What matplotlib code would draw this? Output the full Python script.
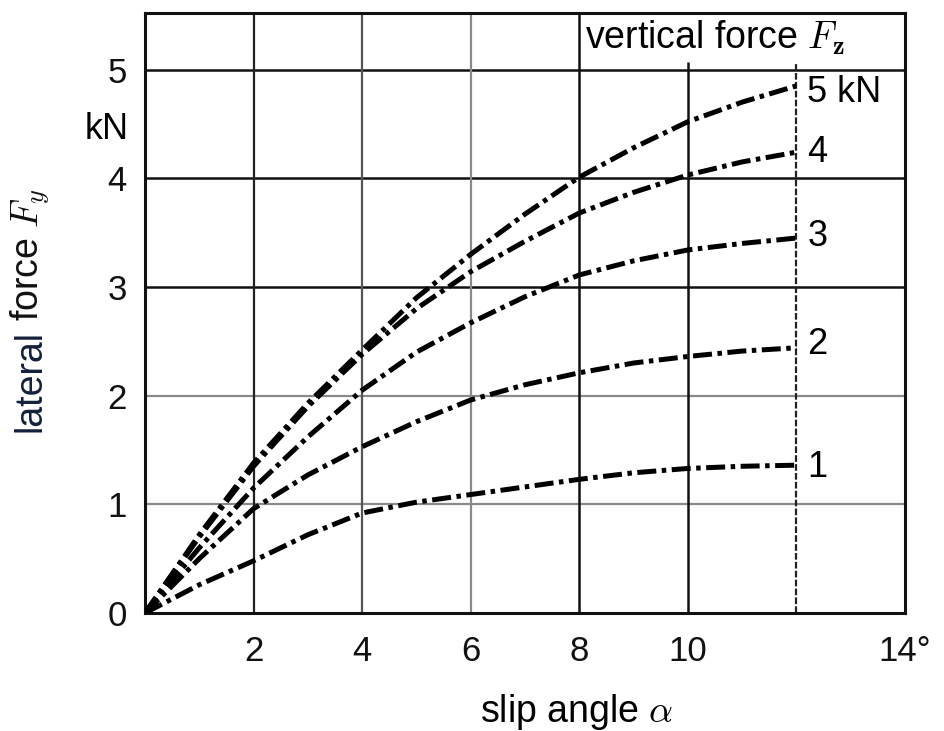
import matplotlib
matplotlib.use("Agg")
import matplotlib.pyplot as plt

plt.rcParams['font.family'] = ['Liberation Sans', 'DejaVu Sans']
plt.rcParams['mathtext.fontset'] = 'cm'

# slip angle (deg) and lateral force (kN)
slip = [0, 1, 2, 3, 4, 5, 6, 7, 8, 9, 10, 11, 12]
fy_5kN = [0, 0.72, 1.38, 1.93, 2.42, 2.90, 3.30, 3.67, 4.01, 4.28, 4.52, 4.70, 4.85]
fy_4kN = [0, 0.70, 1.35, 1.90, 2.38, 2.80, 3.14, 3.42, 3.68, 3.87, 4.03, 4.15, 4.24]
fy_3kN = [0, 0.60, 1.15, 1.62, 2.05, 2.40, 2.67, 2.91, 3.11, 3.24, 3.34, 3.40, 3.45]
fy_2kN = [0, 0.50, 0.96, 1.27, 1.53, 1.76, 1.96, 2.10, 2.21, 2.30, 2.36, 2.41, 2.44]
fy_1kN = [0, 0.26, 0.48, 0.72, 0.92, 1.02, 1.09, 1.16, 1.23, 1.29, 1.33, 1.35, 1.36]
curves = [fy_5kN, fy_4kN, fy_3kN, fy_2kN, fy_1kN]
curve_labels = ['5 kN', '4', '3', '2', '1']
label_y = [4.79, 4.24, 3.46, 2.47, 1.34]

xticks = [2, 4, 6, 8, 10, 14]
xticklabels = ['2', '4', '6', '8', '10', '14°']
yticks = [0, 1, 2, 3, 4, 5]

fig = plt.figure(figsize=(9.44, 7.31), dpi=100)
ax = fig.add_axes([0.1536, 0.1614, 0.8051, 0.8208])
ax.set_xlim(0, 14)
ax.set_ylim(0, 5.52)

# grid
for yv in [1, 2]:
    ax.axhline(yv, color='#8a8a8a', lw=1.6, zorder=1)
for yv in [3, 4, 5]:
    ax.axhline(yv, color='#111111', lw=1.8, zorder=1)
ax.axvline(2, color='#222222', lw=1.6, zorder=1)
ax.axvline(4, color='#555555', lw=1.6, zorder=1)
ax.axvline(6, color='#8a8a8a', lw=1.6, zorder=1)
ax.axvline(8, color='#111111', lw=1.8, zorder=1)
ax.vlines(10, 0, 5.07, color='#111111', lw=1.8, zorder=1)
ax.vlines(12, 0, 5.07, color='#222222', lw=1.6, linestyle=(0, (3, 1)), zorder=1)

for yv in curves:
    ax.plot(slip, yv, color='black', lw=3.6,
            linestyle=(0, (3.8, 1.1, 0.9, 1.1)), zorder=3)

for lab, yl in zip(curve_labels, label_y):
    ax.text(12.2, yl, lab, fontsize=26, va='center', ha='left')

ax.text(8.1, 5.29, r'vertical force $F_{\mathbf{z}}$', fontsize=27,
        va='center', ha='left')

for s in ax.spines.values():
    s.set_linewidth(2.2)
    s.set_color('#111111')

ax.set_xticks(xticks)
ax.set_xticklabels(xticklabels)
ax.set_yticks(yticks)
ax.tick_params(length=0, labelsize=25, colors='#111111')
ax.tick_params(axis='x', pad=16)
ax.tick_params(axis='y', pad=13)

ax.text(-0.3, 4.45, 'kN', fontsize=26, ha='right', va='center')
ax.text(7.95, -0.91, r'slip angle $\alpha$', fontsize=27, ha='center', va='center')

# y label in two colours, second part placed after the first
t1 = fig.text(0.032, (731 - 432) / 731, 'lateral', color='#14203a', fontsize=27,
              rotation=90, ha='center', va='bottom')
fig.canvas.draw()
bb = t1.get_window_extent()
y2 = (bb.y1 + 9) / fig.bbox.height
fig.text(0.032, y2, r'force $F_y$', color='#111111', fontsize=27,
         rotation=90, ha='center', va='bottom')

fig.savefig('out.png', dpi=100)
